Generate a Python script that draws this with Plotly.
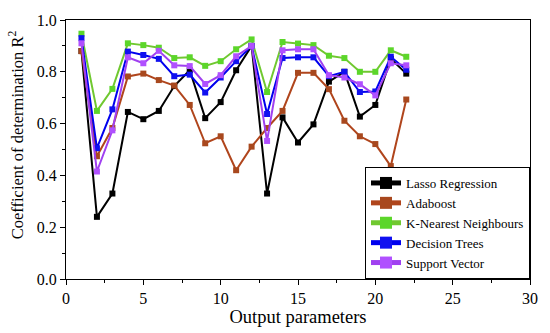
import plotly.graph_objects as go

x = list(range(1, 23))
lasso = [0.88, 0.24, 0.33, 0.645, 0.617, 0.649, 0.745, 0.806, 0.621, 0.683, 0.806, 0.90,
         0.33, 0.624, 0.527, 0.597, 0.762, 0.80, 0.627, 0.672, 0.85, 0.793]
adaboost = [0.88, 0.474, 0.583, 0.782, 0.793, 0.768, 0.747, 0.672, 0.524, 0.551, 0.42, 0.511,
            0.583, 0.649, 0.796, 0.796, 0.733, 0.611, 0.551, 0.521, 0.436, 0.693]
knn = [0.947, 0.649, 0.734, 0.91, 0.903, 0.893, 0.853, 0.856, 0.823, 0.841, 0.887, 0.925,
       0.722, 0.915, 0.909, 0.903, 0.862, 0.853, 0.80, 0.80, 0.883, 0.858]
dtree = [0.93, 0.505, 0.655, 0.878, 0.865, 0.85, 0.783, 0.789, 0.72, 0.778, 0.841, 0.90,
         0.637, 0.853, 0.856, 0.856, 0.783, 0.80, 0.722, 0.724, 0.858, 0.808]
svr = [0.91, 0.415, 0.574, 0.856, 0.833, 0.881, 0.825, 0.822, 0.753, 0.787, 0.86, 0.90,
       0.533, 0.883, 0.887, 0.887, 0.787, 0.778, 0.752, 0.709, 0.833, 0.825]

series = [
    ("Lasso Regression", lasso, "#000000", "#000000"),
    ("Adaboost", adaboost, "#B0451C", "#A8481E"),
    ("K-Nearest Neighbours", knn, "#70C830", "#5CD62A"),
    ("Decision Trees", dtree, "#0000EE", "#1010F0"),
    ("Support Vector", svr, "#A040F0", "#B050FF"),
]

fig = go.Figure()
for name, vals, lc, mc in series:
    fig.add_trace(go.Scatter(
        x=x, y=vals, mode="lines+markers", name=name,
        line=dict(color=lc, width=2),
        marker=dict(symbol="square", size=6, color=mc),
    ))

font = "Times New Roman, Liberation Serif, DejaVu Serif, serif"
fig.update_layout(
    width=550, height=333,
    margin=dict(l=66, r=16, t=15, b=52),
    plot_bgcolor="white", paper_bgcolor="white",
    font=dict(family=font, size=16, color="black"),
    showlegend=True,
    legend=dict(x=1.0, y=0.0, xanchor="right", yanchor="bottom",
                bordercolor="black", borderwidth=1, bgcolor="white",
                font=dict(family=font, size=13), tracegroupgap=0,
                itemsizing="constant"),
    xaxis=dict(range=[0, 30], dtick=5, tick0=0, showgrid=False, zeroline=False,
               showline=True, linecolor="black", linewidth=1, mirror=True,
               ticks="outside", ticklen=5, tickcolor="black",
               minor=dict(dtick=2.5, ticks="outside", ticklen=3, tickcolor="black"),
               title=dict(text="Output parameters", font=dict(family=font, size=18.5), standoff=1),
               tickfont=dict(family=font, size=16)),
    yaxis=dict(range=[0, 1.0], dtick=0.2, tick0=0, showgrid=False, zeroline=False,
               showline=True, linecolor="black", linewidth=1, mirror=True,
               ticks="outside", ticklen=5, tickcolor="black", tickformat=".1f",
               minor=dict(dtick=0.1, ticks="outside", ticklen=3, tickcolor="black"),
               tickfont=dict(family=font, size=16)),
    annotations=[dict(text="Coefficient of determination R<sup>2</sup>",
                      xref="paper", yref="paper", x=-0.105, y=0.556,
                      xanchor="center", yanchor="middle", textangle=-90,
                      showarrow=False, font=dict(family=font, size=16.5))],
)

fig.write_html("out.html", config={"displayModeBar": False},
               post_script="document.body.style.margin='0';document.body.style.overflow='hidden';")
